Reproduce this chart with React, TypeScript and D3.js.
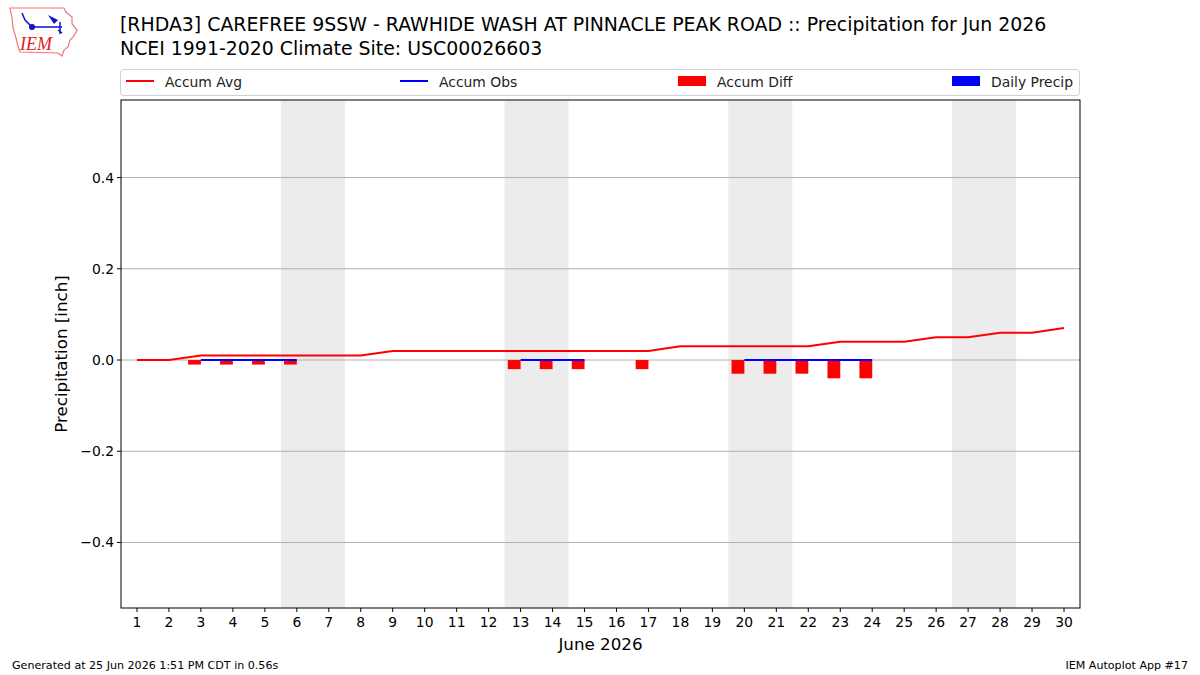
import React from "react";
import * as d3 from "d3";

// days of June 2026
const days = d3.range(1, 31);
const accumAvg = [0, 0, 0.01, 0.01, 0.01, 0.01, 0.01, 0.01, 0.02, 0.02, 0.02, 0.02, 0.02, 0.02, 0.02, 0.02, 0.02, 0.03, 0.03, 0.03, 0.03, 0.03, 0.04, 0.04, 0.04, 0.05, 0.05, 0.06, 0.06, 0.07];
// observed accum (null = missing)
const accumObs: (number | null)[] = [null, null, 0, 0, 0, 0, null, null, null, null, null, null, 0, 0, 0, null, 0, null, null, 0, 0, 0, 0, 0, null, null, null, null, null, null];
const accumDiff: (number | null)[] = [null, null, -0.01, -0.01, -0.01, -0.01, null, null, null, null, null, null, -0.02, -0.02, -0.02, null, -0.02, null, null, -0.03, -0.03, -0.03, -0.04, -0.04, null, null, null, null, null, null];
const dailyPrecip: (number | null)[] = [null, null, 0, 0, 0, 0, null, null, null, null, null, null, 0, 0, 0, null, 0, null, null, 0, 0, 0, 0, 0, null, null, null, null, null, null];
const weekendStarts = [6, 13, 20, 27];
const yTicks = [-0.4, -0.2, 0.0, 0.2, 0.4];
const legendItems = [
  { label: "Accum Avg", kind: "line", color: "red" },
  { label: "Accum Obs", kind: "line", color: "blue" },
  { label: "Accum Diff", kind: "patch", color: "red" },
  { label: "Daily Precip", kind: "patch", color: "blue" },
];

const W = 1200;
const H = 675;
const left = 121;
const right = 1080;
const top = 100;
const bottom = 608;
const font = "DejaVu Sans, sans-serif";

export default function App() {
  const x = d3.scaleLinear().domain([0.5, 30.5]).range([left, right]);
  const y = d3.scaleLinear().domain([-0.5436, 0.5700]).range([bottom, top]);

  const avgLine = d3
    .line<number>()
    .x((_, i) => x(days[i]))
    .y((d) => y(d));
  const obsLine = d3
    .line<number | null>()
    .defined((d) => d !== null)
    .x((_, i) => x(days[i]))
    .y((d) => y(d as number));

  const legendX = [126, 400, 678, 952];

  return (
    <svg width={W} height={H} style={{ position: "absolute", left: 0, top: 0, background: "white" }} fontFamily={font}>
      {/* logo */}
      <g>
        <path
          d="M10,8 L64,8 L66,12 L72,17 L72,24 L77,30 L74,36 L70,40 L68,47 L64,50 L62,56 L58,53 L20,52 L18,46 L16,38 L13,28 L12,18 Z"
          fill="none"
          stroke="#e77"
          strokeWidth={1.2}
        />
        <path d="M22,13 L25,20 L32,27 L62,27" fill="none" stroke="#11c" strokeWidth={1.5} />
        <circle cx={32} cy={27} r={3} fill="#11c" />
        <path d="M48,15 L58,20 L54,24 Z" fill="#11c" />
        <path d="M60,22 L60,34 M58,30 L62,33" stroke="#11c" strokeWidth={1.5} fill="none" />
        <text x={20} y={50} fill="#d22" fontSize={18} fontStyle="italic" fontFamily="Liberation Serif, serif">
          IEM
        </text>
      </g>

      {/* title */}
      <text x={120} y={31} fontSize={18.9} fill="black">
        [RHDA3] CAREFREE 9SSW - RAWHIDE WASH AT PINNACLE PEAK ROAD :: Precipitation for Jun 2026
      </text>
      <text x={120} y={55} fontSize={18.9} fill="black">
        NCEI 1991-2020 Climate Site: USC00026603
      </text>

      {/* legend */}
      <rect x={120.5} y={69.5} width={959} height={26} rx={3} fill="white" stroke="#d0d0d0" />
      {legendItems.map((it, i) => (
        <g key={it.label}>
          {it.kind === "line" ? (
            <line x1={legendX[i]} x2={legendX[i] + 28} y1={81} y2={81} stroke={it.color} strokeWidth={2} />
          ) : (
            <rect x={legendX[i]} y={76} width={28} height={10} fill={it.color} />
          )}
          <text x={legendX[i] + 39} y={86.5} fontSize={13.9} fill="#222">
            {it.label}
          </text>
        </g>
      ))}

      {/* weekend shading */}
      {weekendStarts.map((d) => (
        <rect key={d} x={x(d - 0.5)} y={top} width={x(d + 1.5) - x(d - 0.5)} height={bottom - top} fill="#ececec" />
      ))}

      {/* grid */}
      {yTicks.map((t) => (
        <line key={t} x1={left} x2={right} y1={y(t)} y2={y(t)} stroke="#b0b0b0" strokeWidth={1} />
      ))}

      {/* diff bars (left of day) */}
      {accumDiff.map((v, i) =>
        v === null || v === 0 ? null : (
          <rect
            key={"d" + i}
            x={x(days[i] - 0.4)}
            y={y(Math.max(0, v))}
            width={x(days[i]) - x(days[i] - 0.4)}
            height={Math.abs(y(v) - y(0))}
            fill="red"
          />
        )
      )}
      {/* daily precip bars (right of day) */}
      {dailyPrecip.map((v, i) =>
        v === null || v === 0 ? null : (
          <rect
            key={"p" + i}
            x={x(days[i])}
            y={y(v)}
            width={x(days[i] + 0.4) - x(days[i])}
            height={y(0) - y(v)}
            fill="blue"
          />
        )
      )}

      <path d={obsLine(accumObs) || ""} fill="none" stroke="blue" strokeWidth={2} />
      <path d={avgLine(accumAvg) || ""} fill="none" stroke="red" strokeWidth={2} />

      {/* frame */}
      <rect x={left} y={top} width={right - left} height={bottom - top} fill="none" stroke="black" strokeWidth={1} />

      {/* y axis */}
      {yTicks.map((t) => (
        <g key={"yt" + t}>
          <line x1={left - 4} x2={left} y1={y(t)} y2={y(t)} stroke="black" />
          <text x={left - 7} y={y(t) + 5} fontSize={13.9} textAnchor="end" fill="black">
            {t === 0 ? "0.0" : (t < 0 ? "\u2212" : "") + Math.abs(t).toFixed(1)}
          </text>
        </g>
      ))}
      <text transform={`translate(67,${(top + bottom) / 2}) rotate(-90)`} fontSize={16.7} textAnchor="middle" fill="black">
        Precipitation [inch]
      </text>

      {/* x axis */}
      {days.map((d) => (
        <g key={"xt" + d}>
          <line x1={x(d)} x2={x(d)} y1={bottom} y2={bottom + 4} stroke="black" />
          <text x={x(d)} y={bottom + 19} fontSize={13.9} textAnchor="middle" fill="black">
            {d}
          </text>
        </g>
      ))}
      <text x={(left + right) / 2} y={650} fontSize={16.7} textAnchor="middle" fill="black">
        June 2026
      </text>

      {/* footer */}
      <text x={12} y={669} fontSize={11.1} fill="black">
        Generated at 25 Jun 2026 1:51 PM CDT in 0.56s
      </text>
      <text x={1188} y={669} fontSize={11.1} textAnchor="end" fill="black">
        IEM Autoplot App #17
      </text>
    </svg>
  );
}
